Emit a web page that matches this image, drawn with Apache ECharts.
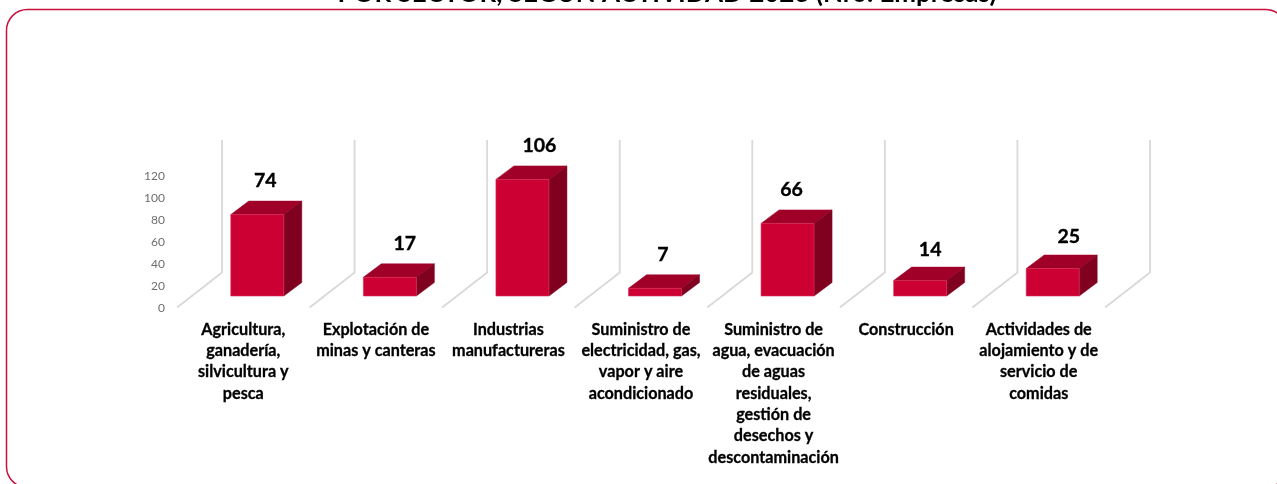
<!DOCTYPE html>
<html><head><meta charset="utf-8">
<style>html,body{margin:0;padding:0;background:#fff;overflow:hidden}#c{width:1277px;height:484px}</style>
<script src="https://cdn.jsdelivr.net/npm/echarts@6/dist/echarts.min.js"></script>
</head><body><div id="c"></div>
<script>
const categories = [
  "Agricultura,\nganadería,\nsilvicultura y\npesca",
  "Explotación de\nminas y canteras",
  "Industrias\nmanufactureras",
  "Suministro de\nelectricidad, gas,\nvapor y aire\nacondicionado",
  "Suministro de\nagua, evacuación\nde aguas\nresiduales,\ngestión de\ndesechos y\ndescontaminación",
  "Construcción",
  "Actividades de\nalojamiento y de\nservicio de\ncomidas"
];
const values = [74, 17, 106, 7, 66, 14, 25];
const yMin = 0, yMax = 120, yStep = 20;
const titleText = "POR SECTOR, SEGÚN ACTIVIDAD 2023 (Nro. Empresas)";

const FONT = "Lato, Carlito, sans-serif";
const FRONT = "#CC0033", TOP = "#A00028", SIDE = "#800020", WALL = "#D9D9D9", RED = "#C8103E";
const WALL_DX = 45, WALL_DY = -35, WALL_TOP_DY = -36.5;
const BAR_W = 53, BAR_DX = 18, BAR_DY = -13.5;
const BASE_DX = 14, BASE_DY = -12.5;
const labelNudgeX = [-1, 6, 8, -1, -5, 1, 7];
const labelNudgeY = [0, 0, 0, 0, 0, 3, 2];

function renderWalls(params, api) {
  const i = api.value(0);
  const c0 = api.coord([i, yMin]), c1 = api.coord([i, yMax]);
  const band = api.size([1, 0])[0];
  const style = {stroke: WALL, lineWidth: 1.8, fill: null};
  const make = x => ({
    type: "polyline",
    shape: {points: [[x, c0[1] - 1], [x + WALL_DX, c0[1] + WALL_DY - 1], [x + WALL_DX, c1[1] + WALL_TOP_DY]]},
    style
  });
  const children = [make(c0[0] - band / 2)];
  if (i === categories.length - 1) children.push(make(c0[0] + band / 2));
  return {type: "group", children};
}

function renderBars(params, api) {
  const i = api.value(0), v = api.value(1);
  const c = api.coord([i, yMin]);
  const h = api.size([0, v])[1];
  const l = c[0] + BASE_DX - BAR_W / 2, r = l + BAR_W;
  const b = c[1] + BASE_DY, t = b - h;
  const poly = (pts, fill) => ({type: "polygon", shape: {points: pts}, style: {fill, stroke: fill, lineWidth: 0.5}});
  return {type: "group", children: [
    poly([[l, t], [r, t], [r + BAR_DX, t + BAR_DY], [l + BAR_DX, t + BAR_DY]], TOP),
    poly([[r, t], [r + BAR_DX, t + BAR_DY], [r + BAR_DX, b + BAR_DY], [r, b]], SIDE),
    {type: "rect", shape: {x: l, y: t, width: BAR_W, height: h}, style: {fill: FRONT, stroke: "#D8315B", lineWidth: 0.6}},
    {type: "text", style: {
      x: (l + r + BAR_DX) / 2 + labelNudgeX[i], y: t + BAR_DY - 20 + labelNudgeY[i],
      text: String(v), fill: "#000", stroke: "#000", lineWidth: 0.35,
      font: "bold 19.5px " + FONT, textAlign: "center", textVerticalAlign: "middle"
    }}
  ]};
}

const chart = echarts.init(document.getElementById("c"), null, {renderer: "canvas"});
chart.setOption({
  backgroundColor: "#fff",
  animation: false,
  title: {
    text: titleText, left: 662, top: -24, textAlign: "center",
    textStyle: {fontFamily: FONT, fontWeight: "bold", fontSize: 26, color: "#000"}
  },
  grid: {left: 177, top: 176.5, width: 928, height: 132},
  xAxis: {
    type: "category", data: categories,
    axisLine: {show: false}, axisTick: {show: false}, splitLine: {show: false},
    axisLabel: {interval: 0, margin: 10.5, color: "#000", textBorderColor: "#000", textBorderWidth: 0.3, fontFamily: FONT, fontWeight: "bold", fontSize: 16.2, lineHeight: 21.3, align: "center"}
  },
  yAxis: {
    type: "value", min: yMin, max: yMax, interval: yStep,
    axisLine: {show: false}, axisTick: {show: false}, splitLine: {show: false},
    axisLabel: {margin: 12, color: "#6E6E6E", fontFamily: FONT, fontSize: 12}
  },
  series: [
    {type: "custom", name: "walls", renderItem: renderWalls, clip: false, silent: true, z: 1,
     encode: {x: 0, y: 1}, data: values.map((v, i) => [i, v])},
    {type: "custom", name: "Empresas", renderItem: renderBars, clip: false, z: 2,
     encode: {x: 0, y: 1}, data: values.map((v, i) => [i, v])}
  ],
  graphic: [{
    type: "rect", z: 100, silent: true,
    shape: {x: 6.5, y: 9.5, width: 1280, height: 478, r: 21},
    style: {fill: null, stroke: RED, lineWidth: 1.5}
  }]
});
</script></body></html>
